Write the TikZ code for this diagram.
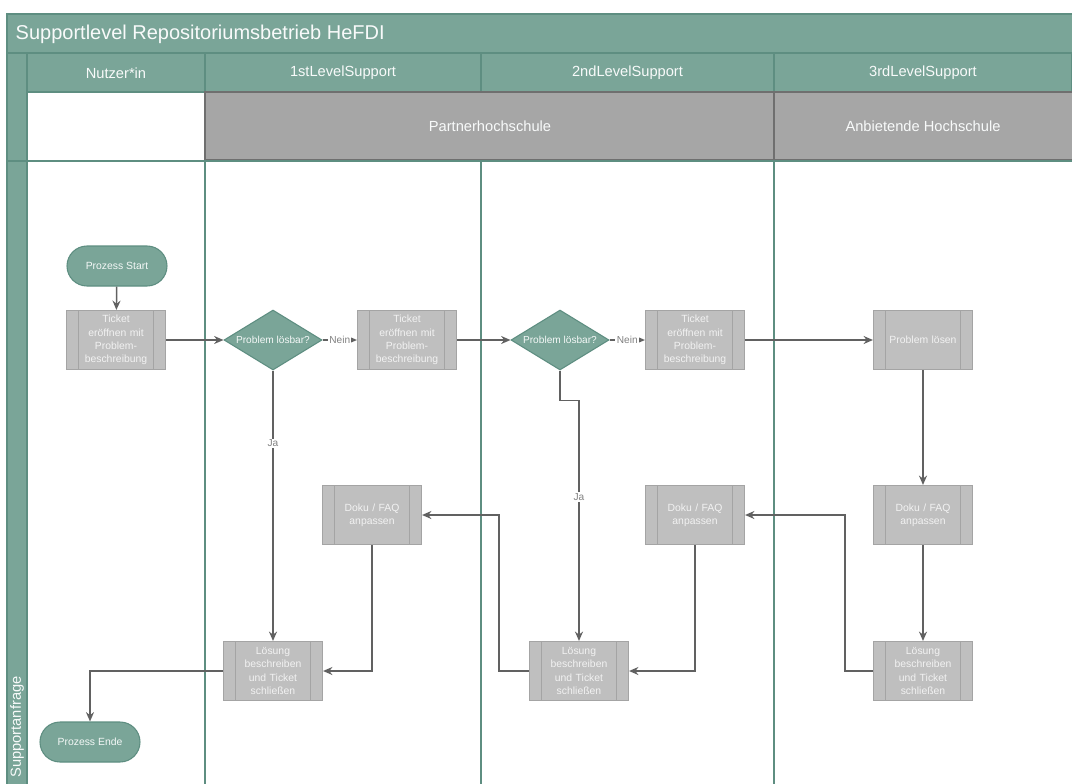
\documentclass[tikz,border=0pt]{standalone}
\usepackage{fontspec}
\setmainfont{Liberation Sans}
\usetikzlibrary{positioning,shapes.geometric,arrows.meta}
\definecolor{lane}{HTML}{7AA598}
\definecolor{laneline}{HTML}{5E8E81}
\definecolor{hdr}{HTML}{A6A6A6}
\definecolor{hdrline}{HTML}{6F6F6F}
\definecolor{box}{HTML}{BFBFBF}
\definecolor{boxline}{HTML}{A4A4A4}
\definecolor{conn}{HTML}{616161}
\begin{document}
\begin{tikzpicture}[x=0.75pt,y=-0.75pt,
  proc/.style={draw=boxline,fill=box,line width=1.1pt,minimum width=74pt,minimum height=44pt,
    inner sep=1pt,text width=56pt,align=center,text=white!95!black,font=\fontsize{7.8}{10}\selectfont,
    path picture={\draw[boxline,line width=1.1pt]
      ([xshift=9pt]path picture bounding box.north west) -- ([xshift=9pt]path picture bounding box.south west)
      ([xshift=-9pt]path picture bounding box.north east) -- ([xshift=-9pt]path picture bounding box.south east);}},
  term/.style={draw=laneline,fill=lane,rounded corners=15pt,minimum width=75pt,minimum height=30pt,
    line width=0.8pt,text=white!92!lane,font=\fontsize{7.8}{9}\selectfont},
  dec/.style={diamond,draw=laneline,fill=lane,minimum width=73.5pt,minimum height=45pt,inner sep=0pt,
    line width=0.8pt,label={[text=white!92!lane,font=\fontsize{7.6}{9}\selectfont]center:Problem lösbar?}},
  hd/.style={text=white!95!lane,font=\fontsize{11}{13}\selectfont},
  arr/.style={-{Stealth[length=7pt,width=6pt]},conn,line width=1.1pt},
  lbl/.style={fill=white,inner sep=1pt,text=conn!80,font=\fontsize{7.6}{9}\selectfont}]
\useasboundingbox (0,0) rectangle (1072,783);
% frame and lanes
\fill[white] (0,0) rectangle (1072,783);
\draw[laneline,fill=lane,line width=0.8pt] (7,14) rectangle (1080,53);
\node[anchor=west,text=white!95!lane,font=\fontsize{15}{17}\selectfont] (title) at (11,34) {Supportlevel Repositoriumsbetrieb HeFDI};
\draw[laneline,fill=lane,line width=0.8pt] (7,53) rectangle (27,161);
\draw[laneline,fill=lane,line width=0.8pt] (7,161) rectangle (27,790);
\foreach \xa/\xb/\txt [count=\i] in {27/205/Nutzer*in,205/481/1stLevelSupport,481/774/2ndLevelSupport,774/1072/3rdLevelSupport}{
  \draw[laneline,fill=lane,line width=0.8pt] (\xa,53) rectangle (\xb,92);
  \node[hd] (lane\i) at ({(\xa+\xb)/2},73) {\txt};
}
\draw[laneline,line width=0.8pt] (1072,53) -- (1080,53);
\draw[laneline,line width=1pt] (27,92) rectangle (205,161);
\draw[hdrline,fill=hdr,line width=1pt] (205,92) rectangle (774,160);
\draw[hdrline,fill=hdr,line width=1pt] (774,92) rectangle (1080,160);
\node[hd] (partner) at (490,126) {Partnerhochschule};
\node[hd] (anbieter) at (923,126) {Anbietende Hochschule};
\draw[laneline,line width=0.8pt] (27,161) -- (1080,161);
\foreach \x in {27,205,481,774} \draw[laneline,line width=1pt] (\x,161) -- (\x,790);
\node[rotate=90,text=white!95!lane,font=\fontsize{11}{13}\selectfont] (pool) at (17,727) {Supportanfrage};
% process
\node[term] (start) at (117,266) {Prozess Start};
\node[proc] (t1) at (116,340) {Ticket\\eröffnen mit\\Problem-\\beschreibung};
\node[dec] (d1) at (273,340) {};
\node[proc] (t2) at (407,340) {Ticket\\eröffnen mit\\Problem-\\beschreibung};
\node[dec] (d2) at (560,340) {};
\node[proc] (t3) at (695,340) {Ticket\\eröffnen mit\\Problem-\\beschreibung};
\node[proc] (solve) at (923,340) {Problem lösen};
\node[proc] (doku1) at (372,515) {Doku / FAQ\\anpassen};
\node[proc] (doku2) at (695,515) {Doku / FAQ\\anpassen};
\node[proc] (doku3) at (923,515) {Doku / FAQ\\anpassen};
\node[proc] (los1) at (273,671) {Lösung\\beschreiben\\und Ticket\\schließen};
\node[proc] (los2) at (579,671) {Lösung\\beschreiben\\und Ticket\\schließen};
\node[proc] (los3) at (923,671) {Lösung\\beschreiben\\und Ticket\\schließen};
\node[term] (ende) at (90,742) {Prozess Ende};
\draw[arr] (start) -- (t1);
\draw[arr] (t1) -- (d1);
\draw[arr] (d1) -- node[lbl]{Nein} (t2);
\draw[arr] (t2) -- (d2);
\draw[arr] (d2) -- node[lbl]{Nein} (t3);
\draw[arr] (t3) -- (solve);
\draw[arr] (d1) -- node[lbl,pos=0.27]{Ja} (los1);
\draw[arr] (d2.south) -- ++(0,30) -| node[lbl,pos=0.7]{Ja} (los2.north);
\draw[arr] (solve) -- (doku3);
\draw[arr] (doku3) -- (los3);
\draw[arr] (los3.west) -- ++(-28,0) |- (doku2.east);
\draw[arr] (doku2.south) |- (los2.east);
\draw[arr] (los2.west) -- ++(-30,0) |- (doku1.east);
\draw[arr] (doku1.south) |- (los1.east);
\draw[arr] (los1.west) -| (ende.north);
\end{tikzpicture}
\end{document}
